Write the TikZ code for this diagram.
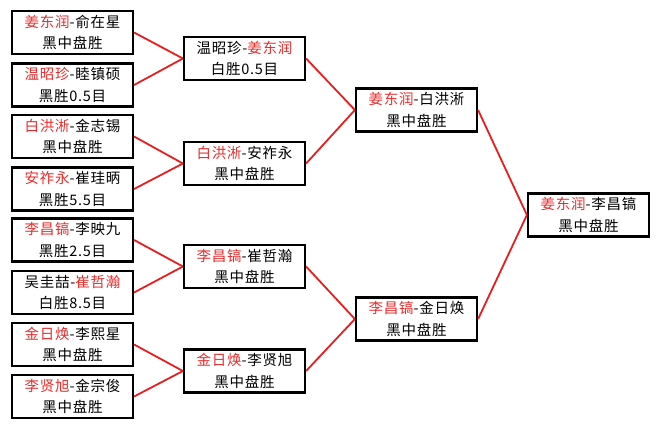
\documentclass[tikz,border=0pt]{standalone}
\usepackage{fontspec}
\newfontfamily\cjk[LetterSpace=5]{Noto Sans CJK SC}
\definecolor{rd}{RGB}{232,30,30}
\definecolor{rt}{RGB}{232,45,45}
\tikzset{
  bx/.style={draw=black, line width=2.2pt, minimum width=121pt, minimum height=43pt,
    align=center, font=\cjk\fontsize{14.5}{21.5}\selectfont, inner sep=0pt, fill=white},
  ln/.style={draw=rd, line width=1.8pt}
}
\newcommand{\rn}[1]{{\color{rt}#1}}
\begin{document}
\begin{tikzpicture}[x=1pt,y=-1pt]
\useasboundingbox[fill=white] (0,0) rectangle (660,429);
% round 1
\node[bx] (a1) at (72.5,32.5)  {\rn{姜东润}-俞在星\\黑中盘胜};
\node[bx] (a2) at (72.5,85)    {\rn{温昭珍}-睦镇硕\\黑胜0.5目};
\node[bx] (a3) at (72.5,136.5) {\rn{白洪淅}-金志锡\\黑中盘胜};
\node[bx] (a4) at (72.5,189)   {\rn{安祚永}-崔珪昞\\黑胜5.5目};
\node[bx] (a5) at (72.5,240)   {\rn{李昌镐}-李映九\\黑胜2.5目};
\node[bx] (a6) at (72.5,292.5) {吴圭喆-\rn{崔哲瀚}\\白胜8.5目};
\node[bx] (a7) at (72.5,344.5) {\rn{金日焕}-李熙星\\黑中盘胜};
\node[bx] (a8) at (72.5,396.5) {\rn{李贤旭}-金宗俊\\黑中盘胜};
% round 2
\node[bx] (b1) at (244.5,58.5)  {温昭珍-\rn{姜东润}\\白胜0.5目};
\node[bx] (b2) at (244.5,163.5) {\rn{白洪淅}-安祚永\\黑中盘胜};
\node[bx] (b3) at (244.5,266.5) {\rn{李昌镐}-崔哲瀚\\黑中盘胜};
\node[bx] (b4) at (244.5,371)   {\rn{金日焕}-李贤旭\\黑中盘胜};
% round 3
\node[bx] (c1) at (416.5,110) {\rn{姜东润}-白洪淅\\黑中盘胜};
\node[bx] (c2) at (416.5,319) {\rn{李昌镐}-金日焕\\黑中盘胜};
% final
\node[bx] (d1) at (588.5,215) {\rn{姜东润}-李昌镐\\黑中盘胜};
% connectors
\draw[ln] (a1.east) -- (b1.west);
\draw[ln] (a2.east) -- (b1.west);
\draw[ln] (a3.east) -- (b2.west);
\draw[ln] (a4.east) -- (b2.west);
\draw[ln] (a5.east) -- (b3.west);
\draw[ln] (a6.east) -- (b3.west);
\draw[ln] (a7.east) -- (b4.west);
\draw[ln] (a8.east) -- (b4.west);
\draw[ln] (b1.east) -- (c1.west);
\draw[ln] (b2.east) -- (c1.west);
\draw[ln] (b3.east) -- (c2.west);
\draw[ln] (b4.east) -- (c2.west);
\draw[ln] (c1.east) -- (d1.west);
\draw[ln] (c2.east) -- (d1.west);
\end{tikzpicture}
\end{document}
